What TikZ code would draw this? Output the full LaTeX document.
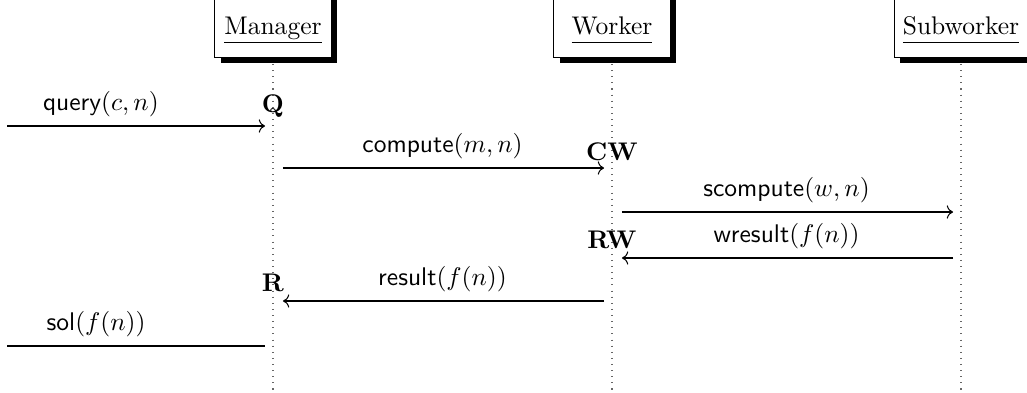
\documentclass[tikz,border=0pt]{standalone}
\usetikzlibrary{positioning, arrows.meta, shadows}
\tikzset{
    thread/.style={rectangle, draw, fill=white, anchor=south, minimum width=45.5pt, text height=10.9pt, inner xsep=3.3pt, inner ysep=5.1pt, drop shadow={fill=black, opacity=1, shadow xshift=2.35pt, shadow yshift=-2.35pt}},
    lifeline/.style={dotted, thin, black!60},
    call/.style={->, shorten <=3.9pt, shorten >=3.1pt},
    reply/.style={->, shorten <=3.1pt, shorten >=3.9pt},
    msglabel/.style={font=\sffamily, above},
    event/.style={font=\bfseries, anchor=base}
}
\newcommand{\threadname}[1]{\underline{#1\vphantom{g}}}

\begin{document}
\begin{tikzpicture}[x=0.392pt, y=-0.392pt]
    \useasboundingbox (0,0) rectangle (1027,393);
    % threads
    \node (mgr) [thread] at (273,58) {\threadname{Manager}};
    \node (wrk) [thread] at (612,58) {\threadname{Worker}};
    \node (sub) [thread] at (961,58) {\threadname{Subworker}};
    
    % lifelines
    \coordinate (bottom) at (0,390);
    \draw[lifeline] ([yshift=-2.35pt]mgr.south) -- (mgr |- bottom);
    \draw[lifeline] ([yshift=-2.35pt]wrk.south) -- (wrk |- bottom);
    \draw[lifeline] ([yshift=-2.35pt]sub.south) -- (sub |- bottom);
    
    % message rows
    \coordinate (query) at (7,126);
    \coordinate (compute) at (0,168);
    \coordinate (scompute) at (0,212);
    \coordinate (wresult) at (0,258);
    \coordinate (result) at (0,301);
    \coordinate (sol) at (7,346);
    
    \draw[->, shorten >=3.1pt] (query) -- (query -| mgr) node[msglabel, pos=0.353] {query$(c,n)$};
    \draw[call] (compute -| mgr) -- (compute -| wrk) node[msglabel, midway] {compute$(m,n)$};
    \draw[call] (scompute -| wrk) -- (scompute -| sub) node[msglabel, midway] {scompute$(w,n)$};
    \draw[reply] (wresult -| sub) -- (wresult -| wrk) node[msglabel, midway] {wresult$(f(n))$};
    \draw[reply] (result -| wrk) -- (result -| mgr) node[msglabel, midway] {result$(f(n))$};
    \draw[shorten >=3.1pt] (sol) -- (sol -| mgr) node[msglabel, pos=0.335] {sol$(f(n))$};
    
    % events
    \node[event] (Q) at (273,112) {Q};
    \node[event] (CW) at (612,160) {CW};
    \node[event] (RW) at (612,248) {RW};
    \node[event] (R) at (273,291) {R};
\end{tikzpicture}
\end{document}
